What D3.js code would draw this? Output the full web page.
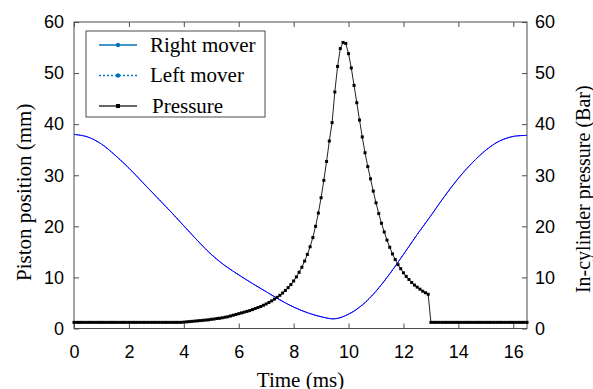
<!DOCTYPE html>
<html>
<head>
<meta charset="utf-8">
<script src="https://cdn.jsdelivr.net/npm/d3@7"></script>
<style>
  body { margin: 0; background: #fff; }
  svg { display: block; }
</style>
</head>
<body>
<div id="chart"></div>
<script>
// piston position, sampled every 0.5 ms (right and left mover overlap)
const positionTime = [0, 0.5, 1, 1.5, 2, 2.5, 3, 3.5, 4, 4.5, 5, 5.5, 6, 6.5, 7, 7.5, 8, 8.5,
  9, 9.5, 10, 10.5, 11, 11.5, 12, 12.5, 13, 13.5, 14, 14.5, 15, 15.5, 16, 16.5];
const rightMover = [38.0, 37.5, 36.1, 33.9, 31.4, 28.6, 25.8, 23.0, 20.1, 17.2, 14.5, 12.3,
  10.5, 8.8, 7.2, 5.6, 4.2, 3.1, 2.3, 1.9, 2.8, 4.6, 7.3, 10.7, 14.5, 18.4, 22.1, 25.9,
  29.4, 32.4, 34.9, 36.7, 37.6, 37.8];
const leftMover = [38.0, 37.5, 36.1, 33.9, 31.4, 28.6, 25.8, 23.0, 20.1, 17.2, 14.5, 12.3,
  10.5, 8.8, 7.2, 5.6, 4.2, 3.1, 2.3, 1.9, 2.8, 4.6, 7.3, 10.7, 14.5, 18.4, 22.1, 25.9,
  29.4, 32.4, 34.9, 36.7, 37.6, 37.8];

// in-cylinder pressure, one marker every 0.1 ms
const pressureTime = d3.range(166).map(i => i / 10);
const pressure = [
  1.2, 1.2, 1.2, 1.2, 1.2, 1.2, 1.2, 1.2, 1.2, 1.2,   // 0.0 - 0.9
  1.2, 1.2, 1.2, 1.2, 1.2, 1.2, 1.2, 1.2, 1.2, 1.2,   // 1.0
  1.2, 1.2, 1.2, 1.2, 1.2, 1.2, 1.2, 1.2, 1.2, 1.2,   // 2.0
  1.2, 1.2, 1.2, 1.2, 1.2, 1.2, 1.2, 1.2, 1.2, 1.2,   // 3.0
  1.25, 1.3, 1.35, 1.4, 1.45, 1.5, 1.55, 1.6, 1.65, 1.7, // 4.0
  1.8, 1.85, 1.95, 2.0, 2.1, 2.2, 2.3, 2.45, 2.6, 2.75,  // 5.0
  2.9, 3.05, 3.2, 3.35, 3.5, 3.7, 3.9, 4.1, 4.3, 4.55,   // 6.0
  4.8, 5.1, 5.4, 5.75, 6.1, 6.5, 6.95, 7.45, 8.0, 8.6,   // 7.0
  9.3, 10.1, 11.0, 12.0, 13.2, 14.5, 16.0, 17.8, 20.0, 22.6, // 8.0
  25.6, 29.0, 32.7, 36.7, 40.3, 46.3, 51.3, 54.8, 56.0, 55.8, // 9.0
  53.8, 51.0, 47.6, 44.2, 40.8, 37.5, 34.4, 31.7, 29.3, 26.9, // 10.0
  24.6, 22.5, 20.6, 18.9, 17.3, 15.9, 14.6, 13.5, 12.5, 11.7, // 11.0
  10.9, 10.2, 9.6, 9.0, 8.5, 8.1, 7.7, 7.3, 7.0, 6.7,        // 12.0
  1.2, 1.2, 1.2, 1.2, 1.2, 1.2, 1.2, 1.2, 1.2, 1.2,   // 13.0
  1.2, 1.2, 1.2, 1.2, 1.2, 1.2, 1.2, 1.2, 1.2, 1.2,   // 14.0
  1.2, 1.2, 1.2, 1.2, 1.2, 1.2, 1.2, 1.2, 1.2, 1.2,   // 15.0
  1.2, 1.2, 1.2, 1.2, 1.2, 1.2                        // 16.0 - 16.5
];

const xTicks = [0, 2, 4, 6, 8, 10, 12, 14, 16];
const yTicks = [0, 10, 20, 30, 40, 50, 60];
const legendLabels = ["Right mover", "Left mover", "Pressure"];

var margin = { top: 22, right: 66, bottom: 60.5, left: 74 },
    width = 593 - margin.left - margin.right,
    height = 389 - margin.top - margin.bottom;

var svg = d3.select("#chart")
    .append("svg")
    .attr("width", 593)
    .attr("height", 389)
    .append("g")
    .attr("transform", "translate(" + margin.left + "," + margin.top + ")");

var x = d3.scaleLinear().domain([0, 16.5]).range([0, width]);
var yLeft = d3.scaleLinear().domain([0, 60]).range([height, 0]);
var yRight = d3.scaleLinear().domain([0, 60]).range([height, 0]);

const tickFont = "'Liberation Sans', Arial, sans-serif";
const titleFont = "'Liberation Serif', 'Times New Roman', serif";
const axisColor = "#4d4d4d";

function styleAxis(g) {
    g.select(".domain").remove();
    g.selectAll(".tick line").attr("stroke", axisColor);
    g.selectAll(".tick text")
        .attr("font-family", tickFont)
        .attr("font-size", 18)
        .attr("fill", "#000");
}

// bottom and top
svg.append("g")
    .attr("transform", "translate(0," + height + ")")
    .call(d3.axisBottom(x).tickValues(xTicks).tickSizeInner(-5).tickSizeOuter(0).tickPadding(17))
    .call(styleAxis);
svg.append("g")
    .call(d3.axisTop(x).tickValues(xTicks).tickSizeInner(-5).tickSizeOuter(0).tickFormat(""))
    .call(styleAxis);

// left and right
svg.append("g")
    .call(d3.axisLeft(yLeft).tickValues(yTicks).tickSizeInner(-5).tickSizeOuter(0).tickPadding(10))
    .call(styleAxis);
svg.append("g")
    .attr("transform", "translate(" + width + ",0)")
    .call(d3.axisRight(yRight).tickValues(yTicks).tickSizeInner(-5).tickSizeOuter(0).tickPadding(8))
    .call(styleAxis);

// frame
svg.append("rect")
    .attr("width", width)
    .attr("height", height)
    .attr("fill", "none")
    .attr("stroke", axisColor)
    .attr("stroke-width", 1);

// axis titles
svg.append("text")
    .attr("x", width / 2)
    .attr("y", height + 58)
    .attr("text-anchor", "middle")
    .attr("font-family", titleFont)
    .attr("font-size", 21)
    .text("Time (ms)");
svg.append("text")
    .attr("transform", "translate(" + (-50) + "," + (height / 2 + 17) + ") rotate(-90)")
    .attr("text-anchor", "middle")
    .attr("dy", "0.35em")
    .attr("font-family", titleFont)
    .attr("font-size", 21)
    .text("Piston position (mm)");
svg.append("text")
    .attr("transform", "translate(" + (width + 57) + "," + (height / 2 + 14) + ") rotate(-90)")
    .attr("text-anchor", "middle")
    .attr("dy", "0.3em")
    .attr("font-family", titleFont)
    .attr("font-size", 20)
    .text("In-cylinder pressure (Bar)");

// piston lines
const posLine = d3.line()
    .x((d, i) => x(positionTime[i]))
    .y(d => yLeft(d))
    .curve(d3.curveCatmullRom.alpha(0.5));

svg.append("path")
    .datum(rightMover)
    .attr("fill", "none")
    .attr("stroke", "#0000ff")
    .attr("stroke-width", 1)
    .attr("d", posLine);
svg.append("path")
    .datum(leftMover)
    .attr("fill", "none")
    .attr("stroke", "#0000ff")
    .attr("stroke-width", 1)
    .attr("stroke-dasharray", "1.5,1")
    .attr("d", posLine);

// pressure line + square markers
const pLine = d3.line()
    .x((d, i) => x(pressureTime[i]))
    .y(d => yRight(d));

svg.append("path")
    .datum(pressure)
    .attr("fill", "none")
    .attr("stroke", "#222")
    .attr("stroke-width", 1)
    .attr("d", pLine);
svg.append("g")
    .selectAll("rect")
    .data(pressure)
    .join("rect")
    .attr("x", (d, i) => x(pressureTime[i]) - 1.5)
    .attr("y", d => yRight(d) - 1.5)
    .attr("width", 3)
    .attr("height", 3)
    .attr("fill", "#000");

// legend
const legend = svg.append("g").attr("transform", "translate(12,9)");
legend.append("rect")
    .attr("width", 179)
    .attr("height", 86)
    .attr("fill", "#fff")
    .attr("stroke", axisColor);

const legendColors = ["#0072bd", "#0072bd", "#333"];
const legendDash = [null, "2,2", null];
legendLabels.forEach((label, i) => {
    const row = legend.append("g").attr("transform", "translate(0," + (14 + i * 30.5) + ")");
    row.append("line")
        .attr("x1", 13).attr("x2", 51)
        .attr("stroke", legendColors[i])
        .attr("stroke-width", 1.3)
        .attr("stroke-dasharray", legendDash[i]);
    if (i < 2) {
        row.append("circle").attr("cx", 32).attr("r", 2.2).attr("fill", legendColors[i]);
    } else {
        row.append("rect").attr("x", 30).attr("y", -2).attr("width", 4).attr("height", 4).attr("fill", "#000");
    }
    row.append("text")
        .attr("x", i < 2 ? 64 : 66)
        .attr("dy", "0.32em")
        .attr("font-family", titleFont)
        .attr("font-size", 21)
        .text(label);
});
</script>
</body>
</html>
